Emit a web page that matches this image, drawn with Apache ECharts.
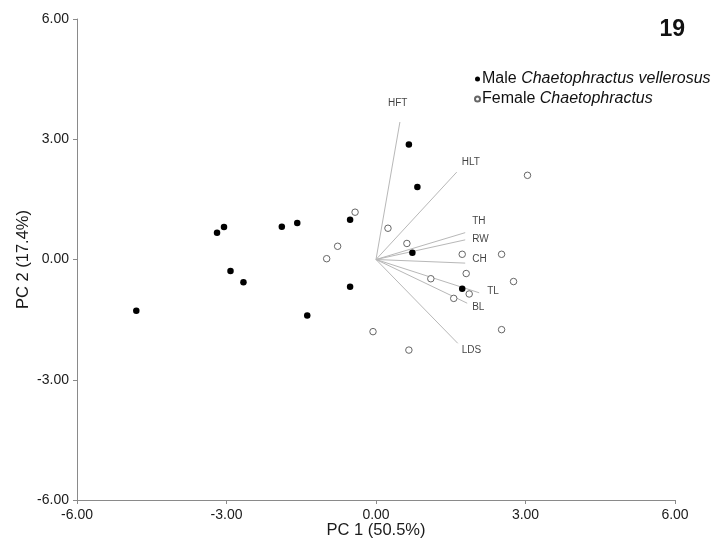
<!DOCTYPE html>
<html>
<head>
<meta charset="utf-8">
<script src="https://cdn.jsdelivr.net/npm/echarts@6/dist/echarts.min.js"></script>
<style>html,body{margin:0;padding:0;background:#fff;}#c{width:711px;height:545px;}</style>
</head>
<body>
<div id="c"></div>
<script>
// Data
var axisTicks = [-6, -3, 0, 3, 6];
var maleX = [-4.81, -3.19, -3.05, -2.92, -2.66, -1.89, -1.58, -1.38, -0.52, -0.52, 0.66, 0.83, 0.73, 1.73];
var maleY = [-1.28, 0.67, 0.81, -0.29, -0.57, 0.82, 0.91, -1.40, 0.99, -0.68, 2.87, 1.81, 0.17, -0.73];
var femaleX = [-0.42, -0.77, -0.99, 0.24, 0.62, 1.73, 2.52, 3.04, 1.81, 2.76, 1.10, 1.87, 1.56, 2.52, -0.06, 0.66];
var femaleY = [1.18, 0.33, 0.02, 0.78, 0.40, 0.13, 0.13, 2.10, -0.35, -0.55, -0.48, -0.86, -0.97, -1.75, -1.80, -2.26];
var vectorNames = ['HFT', 'HLT', 'TH', 'RW', 'CH', 'TL', 'BL', 'LDS'];
var vectorX = [0.48, 1.62, 1.79, 1.79, 1.79, 2.07, 1.83, 1.64];
var vectorY = [3.43, 2.18, 0.67, 0.49, -0.09, -0.83, -1.09, -2.09];

// Label placement (style only)
var labelOffset = {
  HFT: [-12, -19], HLT: [5, -10], TH: [7, -11], RW: [7, -1],
  CH: [7, -4], TL: [8, -2], BL: [5, 4], LDS: [4, 7]
};

function pairs(xs, ys) { return xs.map(function (x, i) { return [x, ys[i]]; }); }

var vecLines = vectorNames.map(function (n, i) {
  return { coords: [[0, 0], [vectorX[i], vectorY[i]]] };
});
var vecEnds = vectorNames.map(function (n, i) {
  return {
    name: n, value: [vectorX[i], vectorY[i]],
    label: { offset: labelOffset[n] }
  };
});

var chart = echarts.init(document.getElementById('c'), null, { renderer: 'canvas' });
var fontFam = 'Liberation Sans, Arial, sans-serif';
var axisCommon = {
  min: -6, max: 6, interval: 3,
  axisLine: { onZero: false, lineStyle: { color: '#8a8a8a', width: 1 } },
  axisTick: { show: true, length: 4, lineStyle: { color: '#8a8a8a' } },
  splitLine: { show: false },
  axisLabel: {
    color: '#1a1a1a', fontSize: 14, fontFamily: fontFam,
    formatter: function (v) { return v.toFixed(2); }
  },
  nameLocation: 'middle',
  nameMoveOverlap: false,
  nameTextStyle: { color: '#1a1a1a', fontSize: 16.5, fontFamily: fontFam }
};

chart.setOption({
  animation: false,
  backgroundColor: '#fff',
  title: {
    text: '19', right: 21, top: 13,
    textStyle: { fontSize: 23, fontWeight: 'bold', color: '#111', fontFamily: fontFam }
  },
  legend: {
    orient: 'vertical', left: 469, top: 65,
    itemWidth: 5, itemHeight: 5, itemGap: 2,
    data: ['Male', 'Female'],
    formatter: function (n) {
      return n === 'Male' ? '{n|Male }{i|Chaetophractus vellerosus}' : '{n|Female }{i|Chaetophractus}';
    },
    textStyle: {
      color: '#111', fontSize: 16, fontFamily: fontFam, lineHeight: 18, padding: [0, 0, 0, -3],
      rich: {
        n: { fontSize: 16, fontFamily: fontFam, color: '#111', lineHeight: 18 },
        i: { fontSize: 16, fontFamily: fontFam, color: '#111', fontStyle: 'italic', lineHeight: 18 }
      }
    }
  },
  grid: { left: 77, right: 36, top: 19, bottom: 45, containLabel: false },
  xAxis: Object.assign({}, axisCommon, { type: 'value', name: 'PC 1 (50.5%)', nameGap: 22 }),
  yAxis: Object.assign({}, axisCommon, { type: 'value', name: 'PC 2 (17.4%)', nameGap: 45 }),
  series: [
    {
      type: 'lines', coordinateSystem: 'cartesian2d', z: 1, silent: true,
      lineStyle: { color: '#b8b8b8', width: 1, opacity: 1 },
      data: vecLines
    },
    {
      type: 'scatter', z: 2, symbolSize: 0, silent: true,
      data: vecEnds,
      label: {
        show: true, formatter: '{b}', position: 'inside', align: 'left', verticalAlign: 'middle',
        color: '#111', fontSize: 10, fontFamily: fontFam
      }
    },
    {
      name: 'Male', type: 'scatter', z: 4, symbol: 'circle', symbolSize: 6.5,
      itemStyle: { color: '#000', opacity: 1 },
      data: pairs(maleX, maleY)
    },
    {
      name: 'Female', type: 'scatter', z: 3, symbol: 'circle', symbolSize: 6.5,
      itemStyle: { color: '#fff', borderColor: '#666', borderWidth: 1, opacity: 1 },
      data: pairs(femaleX, femaleY)
    }
  ]
});
</script>
</body>
</html>
